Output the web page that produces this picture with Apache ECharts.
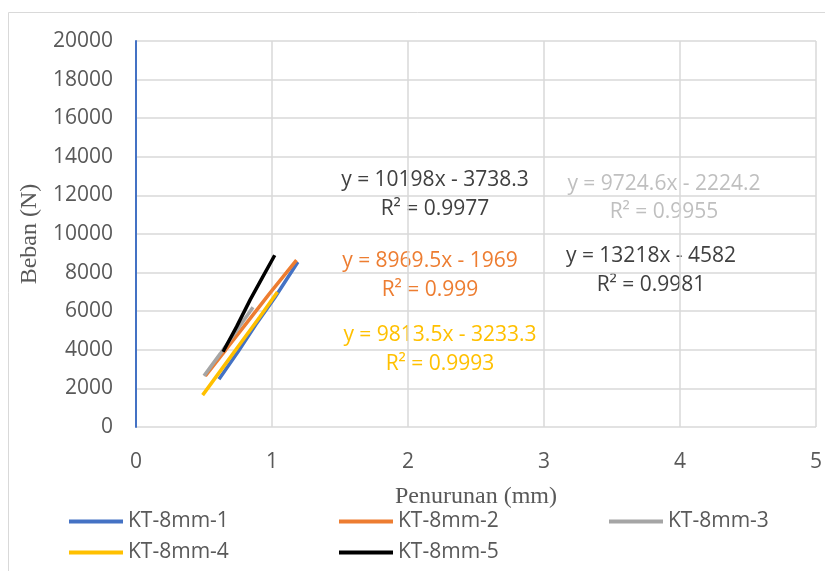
<!DOCTYPE html>
<html><head><meta charset="utf-8">
<script src="https://cdn.jsdelivr.net/npm/echarts@6/dist/echarts.min.js"></script>
<style>html,body{margin:0;padding:0;background:#fff}#c{width:825px;height:571px}</style>
</head><body><div id="c"></div>
<script>
const seriesNames = ['KT-8mm-1','KT-8mm-2','KT-8mm-3','KT-8mm-4','KT-8mm-5'];
const seriesColors = ['#4472C4','#ED7D31','#A5A5A5','#FFC000','#000000'];
const kt1 = [[0.61,2480],[0.75,3900],[0.88,5300],[1.02,6700],[1.19,8550]];
const kt2 = [[0.51,2650],[0.66,4000],[0.82,5450],[0.98,6900],[1.18,8650]];
const kt3 = [[0.50,2650],[0.62,3800],[0.74,5000],[0.86,6200]];
const kt4 = [[0.49,1650],[0.63,3000],[0.77,4350],[0.91,5700],[1.04,7000]];
const kt5 = [[0.64,3900],[0.74,5200],[0.84,6600],[0.93,7750],[1.02,8900]];
const seriesData = [kt1,kt2,kt3,kt4,kt5];
const xTicks = [0,1,2,3,4,5];
const yTicks = [0,2000,4000,6000,8000,10000,12000,14000,16000,18000,20000];
const eqLabels = [
  ['y = 10198x - 3738.3','R² = 0.9977','#404040'],
  ['y = 8969.5x - 1969','R² = 0.999','#ED7D31'],
  ['y = 9724.6x - 2224.2','R² = 0.9955','#BFBFBF'],
  ['y = 9813.5x - 3233.3','R² = 0.9993','#FFC000'],
  ['y = 13218x - 4582','R² = 0.9981','#404040']
];
const eqPos = [[435,180,209],[430,261,290],[664,184,212],[440,335,364],[651,256,285]];
const FONT = '"Open Sans", sans-serif';
const SERIF = '"Liberation Serif", "Times New Roman", serif';
const chart = echarts.init(document.getElementById('c'), null, {renderer:'canvas'});
const graphics = [{type:'rect',shape:{x:8.5,y:12.5,width:840,height:600},style:{fill:'none',stroke:'#D9D9D9',lineWidth:1},z:-10}];
eqLabels.forEach((e,i)=>{
  graphics.push({type:'text',x:eqPos[i][0],y:eqPos[i][1],style:{text:e[0],fill:e[2],font:'21px '+FONT,textAlign:'center',textVerticalAlign:'middle'}});
  graphics.push({type:'text',x:eqPos[i][0],y:eqPos[i][2],style:{text:e[1],fill:e[2],font:'21px '+FONT,textAlign:'center',textVerticalAlign:'middle'}});
});
chart.setOption({
  animation:false,
  grid:{left:136,right:8,top:41,bottom:144},
  xAxis:{type:'value',min:0,max:5,interval:1,
    name:'Penurunan (mm)',nameLocation:'middle',nameGap:58,
    nameTextStyle:{fontFamily:SERIF,fontSize:24,color:'#595959'},
    axisLine:{show:false},axisTick:{show:false},
    axisLabel:{color:'#595959',fontSize:21,fontFamily:FONT,margin:25,
      formatter:v=>xTicks.includes(v)?String(v):''},
    splitLine:{show:true,lineStyle:{color:'#D9D9D9',width:1.5}}},
  yAxis:{type:'value',min:0,max:20000,interval:2000,
    name:'Beban (N)',nameLocation:'middle',nameGap:91,
    nameTextStyle:{fontFamily:SERIF,fontSize:24,color:'#595959'},
    axisLine:{show:true,lineStyle:{color:'#4472C4',width:2}},axisTick:{show:false},
    axisLabel:{color:'#595959',fontSize:21,fontFamily:FONT,margin:23,
      formatter:v=>yTicks.includes(v)?String(v):''},
    splitLine:{show:true,lineStyle:{color:'#D9D9D9',width:1.5}}},
  legend:{
    data:seriesNames, left:69, top:506, padding:0, width:815, itemGap:0, itemWidth:54, itemHeight:4,
    icon:'rect',
    textStyle:{color:'#595959',fontSize:21,fontFamily:FONT,width:211,lineHeight:31,padding:[0,0,0,0]}
  },
  graphic:graphics,
  series:seriesData.map((d,i)=>({
    name:seriesNames[i],type:'line',data:d,showSymbol:false,symbol:'none',
    lineStyle:{color:seriesColors[i],width:3.5},itemStyle:{color:seriesColors[i]}
  }))
});
</script></body></html>
